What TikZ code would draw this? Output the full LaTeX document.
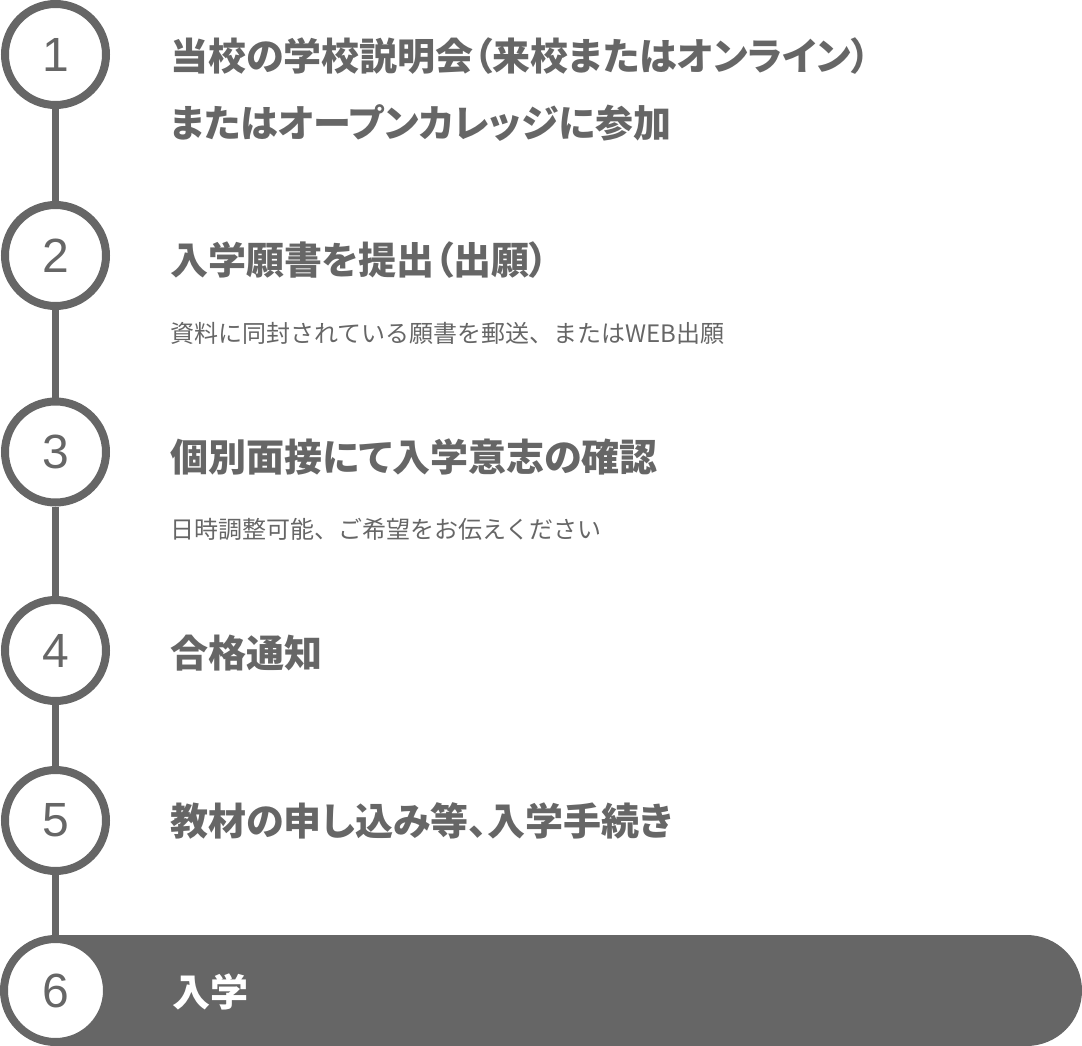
\documentclass[tikz,border=0pt]{standalone}
\usepackage{fontspec}
\newfontfamily\jp{Noto Sans CJK JP}
\newfontfamily\jpp[RawFeature=+palt]{Noto Sans CJK JP}
\newfontfamily\numfont{Liberation Sans}
\definecolor{gr}{HTML}{666666}
\begin{document}
\begin{tikzpicture}[x=1pt,y=-1pt,
  stepcirc/.style={circle,draw=gr,line width=8pt,fill=white,inner sep=0pt,minimum size=101pt,
     font=\numfont\fontsize{48}{48}\selectfont,text=gr},
  title/.style={anchor=west,inner sep=0pt,text height=0.88em,text depth=0.12em,
     font=\jpp\bfseries\fontsize{38}{38}\selectfont,text=gr},
  sub/.style={anchor=west,inner sep=0pt,text height=0.88em,text depth=0.12em,
     font=\jp\fontsize{24}{24}\selectfont,text=gr},
  conn/.style={draw=gr,line width=7pt}]
\useasboundingbox (0,0) rectangle (1082,1046);
% bar of the last step
\fill[gr,rounded corners=55.5pt] (56,935) -- (1082,935) -- (1082,1046) -- (56,1046) [sharp corners] -- cycle;
\fill[gr] (56,935) rectangle (200,1046);
\node[stepcirc] (c1) at (55.5,54.5) {1};
\node[stepcirc] (c2) at (55.5,255.5) {2};
\node[stepcirc] (c3) at (55.5,452) {3};
\node[stepcirc] (c4) at (55.5,650.5) {4};
\node[stepcirc] (c5) at (55.5,820.5) {5};
\node[stepcirc,minimum size=103pt] (c6) at (55.5,990.5) {6};
\draw[conn] (c1) -- (c2);
\draw[conn] (c2) -- (c3);
\draw[conn] (c3) -- (c4);
\draw[conn] (c4) -- (c5);
\draw[conn] (c5) -- (c6);
\node[title] (t1a) at (170,67) {当校の学校説明会（来校またはオンライン）};
\node[title] (t1b) at (170,134) {またはオープンカレッジに参加};
\node[title] (t2) at (170,271) {入学願書を提出（出願）};
\node[sub] (s2) at (170,339) {資料に同封されている願書を郵送、またはWEB出願};
\node[title] (t3) at (170,468) {個別面接にて入学意志の確認};
\node[sub] (s3) at (170,535) {日時調整可能、ご希望をお伝えください};
\node[title] (t4) at (170,664) {合格通知};
\node[title] (t5) at (170,832) {教材の申し込み等、入学手続き};
\node[title,text=white] (t6) at (172,1003) {入学};
\end{tikzpicture}
\end{document}
